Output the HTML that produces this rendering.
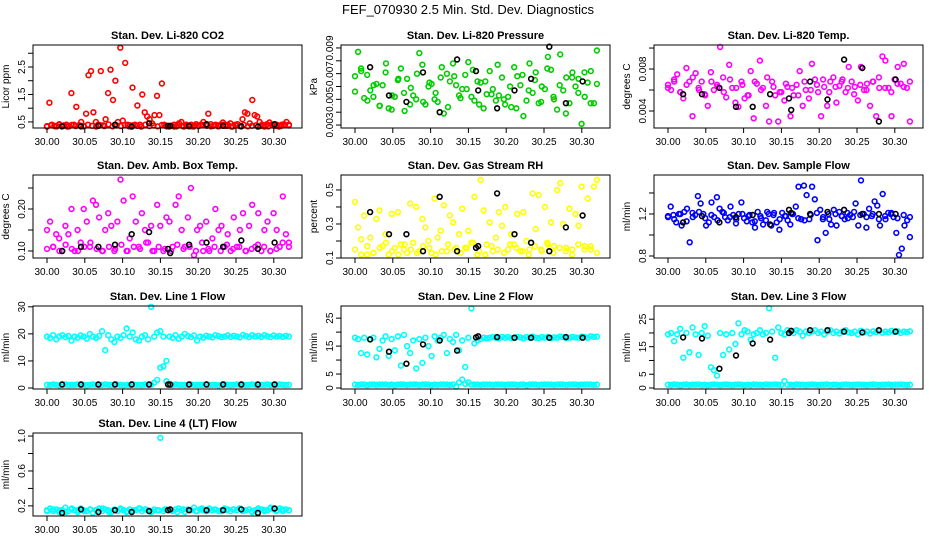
<!DOCTYPE html>
<html><head><meta charset="utf-8"><style>
html,body{margin:0;padding:0;background:#fff;}
svg{display:block;font-family:"Liberation Sans",sans-serif;}
</style></head><body>
<svg id="chart" width="936" height="540" viewBox="0 0 936 540" xmlns="http://www.w3.org/2000/svg">
<rect width="936" height="540" fill="#fff"/>
<text x="468" y="14" text-anchor="middle" font-size="13">FEF_070930  2.5 Min. Std. Dev. Diagnostics</text>
</svg>
<script>
const xTicks=[30.00,30.05,30.10,30.15,30.20,30.25,30.30];
const xTickLabels=['30.00','30.05','30.10','30.15','30.20','30.25','30.30'];
const blackX=[30.020,30.045,30.068,30.090,30.112,30.135,30.160,30.163,30.188,30.211,30.233,30.257,30.279,30.301];

const co2Vals=[0.33,1.2,0.4,0.36,0.34,0.42,0.35,0.38,0.4,0.34,
1.55,0.4,1.05,0.38,0.5,0.35,0.8,2.2,2.35,0.85,
0.5,0.4,2.35,0.38,0.6,1.55,2.4,1.3,2.0,0.5,
3.2,0.55,2.65,0.4,0.38,1.75,0.4,1.1,0.4,1.5,
0.85,0.7,0.6,0.45,0.75,1.45,0.75,1.9,0.4,0.34,
0.33,0.36,0.4,0.34,0.45,0.5,0.33,0.36,0.34,0.4,
0.33,0.42,0.36,0.4,0.5,0.4,0.8,0.42,0.36,0.4,
0.34,0.4,0.48,0.36,0.4,0.45,0.33,0.4,0.42,0.36,
0.6,0.85,0.8,0.45,1.3,0.75,0.7,0.5,0.4,0.33,
0.42,0.48,0.4,0.36,0.4,0.33,0.4,0.42,0.5,0.4];
const co2Base=[0.35,0.38,0.34,0.4,0.36,0.33,0.39,0.35,0.37,0.34,0.4,0.36,0.33,0.38,0.35,0.41,0.34,0.37,0.35,0.39,
0.34,0.38,0.36,0.33,0.4,0.35,0.37,0.34,0.39,0.36,0.35,0.33,0.38,0.36,0.4,0.34,0.37,0.35,0.39,0.36,
0.34,0.38,0.35,0.4,0.36,0.33,0.37,0.35,0.39,0.34,0.36,0.38,0.35,0.37,0.34,0.4,0.36,0.35,0.38,0.37];
const co2Black=[0.34,0.34,0.36,0.4,0.33,0.45,0.36,0.36,0.36,0.42,0.36,0.34,0.33,0.42];

const presVals=[0.0068,0.0087,0.0074,0.0051,0.0069,0.0057,0.0052,0.0062,0.0045,0.0061,
0.0071,0.0043,0.0042,0.0052,0.0065,0.0074,0.0055,0.0066,0.0046,0.0053,
0.0050,0.0086,0.0077,0.0046,0.0060,0.0062,0.0050,0.0048,0.0067,0.0039,
0.0070,0.0064,0.0078,0.0061,0.0053,0.0058,0.0069,0.0079,0.0052,0.0049,
0.0064,0.0063,0.0043,0.0054,0.0072,0.0058,0.0049,0.0053,0.0067,0.0046,
0.0052,0.0044,0.0075,0.0068,0.0061,0.0037,0.0049,0.0078,0.0055,0.0071,
0.0047,0.0060,0.0058,0.0083,0.0073,0.0050,0.0042,0.0085,0.0057,0.0067,
0.0047,0.0071,0.0060,0.0066,0.0031,0.0052,0.0063,0.0072,0.0047,0.0088];
const presExtra=[0.0056,0.0072,0.0049,0.0061,0.0045,0.0078,0.0053,0.0066,0.0041,0.0059,0.0070,0.0048,0.0063,0.0055,0.0075,0.0044,0.0068,0.0051,0.0058,0.0073,
0.0046,0.0064,0.0054,0.0077,0.0050,0.0060,0.0043,0.0069,0.0057,0.0065,0.0048,0.0074,0.0052,0.0061,0.0039,0.0067,0.0055,0.0071,0.0047,0.0062];
const presBlack=[0.0075,0.0053,0.0048,0.0071,0.0040,0.0081,0.0072,0.0057,0.0043,0.0057,0.0066,0.0091,0.0047,0.0064];

const ltVals=[0.0065,0.006,0.007,0.0075,0.0058,0.0052,0.0081,0.0068,0.0035,0.0076,
0.0062,0.0068,0.0056,0.0045,0.0077,0.006,0.0065,0.0101,0.0072,0.0053,
0.0084,0.0062,0.0048,0.0044,0.0068,0.0052,0.0055,0.0078,0.0033,0.0066,
0.0088,0.0062,0.0045,0.003,0.0068,0.0055,0.003,0.0058,0.005,0.0063,
0.0035,0.0055,0.0065,0.0078,0.0045,0.006,0.0052,0.0085,0.007,0.0058,
0.0035,0.0063,0.0045,0.0068,0.0072,0.0048,0.0064,0.007,0.0058,0.0082,
0.0068,0.0063,0.005,0.0082,0.006,0.0066,0.0045,0.0068,0.0035,0.0062,
0.0092,0.0088,0.0062,0.0035,0.007,0.0082,0.0066,0.0085,0.0062,0.003];
const ltExtra=[0.0062,0.0068,0.0058,0.0065,0.0072,0.006,0.0055,0.0068,0.0063,0.0058,0.007,0.0062,0.0065,0.0055,0.0068,0.006,0.0072,0.0063,0.0058,0.0066,
0.0062,0.0055,0.0068,0.006,0.0065,0.007,0.0058,0.0063,0.0068,0.0062,0.0056,0.0065,0.006,0.0068,0.0072,0.0062,0.0058,0.0066,0.0063,0.0068];
const ltBlack=[0.0056,0.0056,0.0062,0.0044,0.0044,0.0056,0.0052,0.0041,0.0068,0.0051,0.0089,0.0081,0.003,0.007];

const ambVals=[0.15,0.17,0.11,0.14,0.13,0.10,0.16,0.14,0.20,0.10,
0.15,0.12,0.20,0.17,0.11,0.22,0.21,0.18,0.10,0.15,
0.19,0.16,0.10,0.17,0.27,0.22,0.10,0.13,0.23,0.17,
0.11,0.19,0.15,0.12,0.16,0.10,0.21,0.16,0.10,0.18,
0.17,0.11,0.21,0.23,0.15,0.11,0.18,0.25,0.09,0.15,
0.16,0.10,0.17,0.10,0.13,0.20,0.15,0.16,0.11,0.14,
0.10,0.18,0.11,0.15,0.19,0.10,0.16,0.21,0.11,0.19,
0.10,0.15,0.17,0.10,0.19,0.15,0.11,0.23,0.14,0.12];
const ambBase=[0.105,0.11,0.10,0.115,0.105,0.10,0.11,0.12,0.105,0.10,0.11,0.105,0.115,0.10,0.11,0.105,0.12,0.10,0.11,0.105,
0.10,0.115,0.105,0.11,0.10,0.12,0.105,0.11,0.10,0.115,0.105,0.11,0.10,0.105,0.115,0.11,0.10,0.105,0.12,0.11];
const ambBlack=[0.10,0.11,0.11,0.115,0.14,0.145,0.105,0.095,0.115,0.12,0.11,0.125,0.105,0.12];

const rhVals=[0.43,0.28,0.21,0.35,0.12,0.22,0.13,0.33,0.38,0.17,
0.24,0.12,0.36,0.16,0.37,0.18,0.15,0.13,0.42,0.19,
0.40,0.14,0.33,0.28,0.20,0.13,0.45,0.22,0.26,0.41,
0.14,0.35,0.31,0.16,0.24,0.39,0.16,0.26,0.19,0.46,
0.12,0.56,0.38,0.18,0.31,0.14,0.22,0.37,0.29,0.40,
0.15,0.24,0.18,0.36,0.14,0.37,0.20,0.15,0.48,0.27,
0.47,0.14,0.40,0.18,0.31,0.17,0.50,0.54,0.30,0.16,
0.39,0.15,0.36,0.29,0.52,0.17,0.45,0.15,0.52,0.56];
const rhBase=[0.15,0.12,0.17,0.13,0.16,0.19,0.14,0.12,0.18,0.15,0.13,0.17,0.16,0.12,0.14,0.18,0.15,0.13,0.16,0.19,
0.14,0.12,0.17,0.15,0.13,0.18,0.16,0.14,0.12,0.17,0.15,0.19,0.13,0.16,0.14,0.12,0.18,0.15,0.17,0.13];
const rhBlack=[0.37,0.24,0.24,0.14,0.46,0.14,0.16,0.17,0.48,0.24,0.19,0.14,0.28,0.35];

const flowVals=[1.17,1.27,1.19,1.12,1.20,1.09,1.22,1.25,0.93,1.21,
1.19,1.37,1.30,1.20,1.09,1.12,1.31,1.17,1.36,1.25,
1.22,1.17,1.14,1.27,1.19,1.11,1.20,1.31,1.16,1.13,
1.19,1.12,1.07,1.22,1.18,1.10,1.14,1.20,1.09,1.21,
1.12,1.05,1.21,1.18,1.14,1.10,1.20,1.27,1.46,1.15,
1.47,1.38,1.15,1.46,1.34,0.95,1.24,1.15,1.02,1.20,
1.10,1.24,1.09,1.22,1.18,1.15,1.21,1.19,1.17,1.30,
1.09,1.52,1.20,1.07,1.25,1.18,1.32,1.28,1.09,1.39,
1.15,1.21,1.20,1.17,1.02,0.81,0.87,1.09,1.14,0.98];
const flowExtra=[1.18,1.15,1.2,1.13,1.17,1.22,1.16,1.19,1.14,1.21,1.17,1.15,1.2,1.18,1.13,1.16,1.22,1.19,1.15,1.18,
1.2,1.16,1.14,1.19,1.21,1.17,1.15,1.2,1.18,1.16,1.22,1.19,1.17,1.2,1.15,1.18,1.21,1.16,1.19,1.17];
const flowBlack=[1.12,1.18,1.12,1.17,1.19,1.10,1.24,1.21,1.20,1.22,1.24,1.20,1.20,1.20];

const l1Low=[1.2,1.1,1.3,1.2,1.0,1.2,1.3,1.1,1.2,1.2,1.3,1.1,1.2,1.0,1.2,1.3,1.2,1.1,1.2,1.3,
1.2,1.1,1.2,1.3,1.2,1.0,1.2,1.1,1.3,1.2,1.2,1.1,1.3,1.2,1.2,2.0,3.0,7.5,8.0,2.5,
1.2,1.1,1.3,1.2,1.2,1.1,1.2,1.3,1.2,1.1,1.2,1.2,1.3,1.1,1.2,1.2,1.0,1.2,1.3,1.2,
1.1,1.2,1.3,1.2,1.2,1.1,1.2,1.3,1.2,1.1,1.2,1.2,1.3,1.1,1.2,1.2,1.3,1.2,1.1,1.2];
const l1High=[19,18.5,19.5,18,19,19.5,18.8,19.2,17.5,19,18.6,19.4,19,18.2,20,19,18.5,19.2,21,14,
19.5,18,17,19,18.5,19.5,22,19,20.5,18,17.5,19,19.5,18,30,19,20.5,21,19,10,
19,18.5,19.5,18.2,19,20,19.2,18.8,19.4,17.5,19,18.6,19.3,19,18.7,19.5,19.2,18.8,19,19.4,
18.9,19.3,19,18.7,19.6,19.2,18.8,19.5,19,19.3,18.9,19.5,19.1,18.8,19.4,19,19.2,18.9,19.3,19];
const l1Black=[1.3,1.3,1.3,1.3,1.3,1.3,1.3,1.3,1.3,1.3,1.3,1.3,1.3,1.3];

const l2Low=[1.2,1.1,1.3,1.2,1.0,1.2,1.3,1.1,1.2,1.2,1.3,1.1,1.2,1.0,1.2,1.3,1.2,1.1,1.2,1.3,
1.2,1.1,1.2,1.3,1.2,1.0,1.2,1.1,1.3,1.2,1.2,1.1,1.3,0.5,2.0,3.0,1.5,2.0,1.2,1.2,
1.2,1.1,1.3,1.2,1.2,1.1,1.2,1.3,1.2,1.1,1.2,1.2,1.3,1.1,1.2,1.2,1.0,1.2,1.3,1.2,
1.1,1.2,1.3,1.2,1.2,1.1,1.2,1.3,1.2,1.1,1.2,1.2,1.3,1.1,1.2,1.2,1.3,1.2,1.1,1.2];
const l2High=[18,17.5,12.5,18,12,17.5,18,11,14,17,18.5,11.5,17.5,13.5,18.5,8,19,15,12.5,17,
7,17.5,9,18,15,11.5,18.5,17,18,19,12.5,17.5,16.5,19,13.5,17,7.5,18,28.5,16,
17,17.5,18,17.8,18,18.2,18,17.8,18.3,18,18.2,17.9,18,18.3,18.1,17.8,18.2,18,18.4,18,
17.9,18.2,18,18.3,17.8,18.1,18,18.4,18.2,17.9,18,18.3,18.1,18,18.4,18.2,18,18.5,18.3,18.4];
const l2Black=[17.4,13.0,8.7,15.6,17.0,13.4,18.1,18.5,18.2,18.0,18.0,18.0,18.2,18.0];

const l3Low=[1.2,1.1,1.3,1.2,1.0,1.2,1.3,1.1,1.2,1.2,1.3,1.1,1.2,1.0,1.2,1.3,1.2,1.1,1.2,1.3,
1.2,1.1,1.2,1.3,1.2,1.0,1.2,1.1,1.3,1.2,1.2,1.1,1.3,1.2,1.2,1.3,1.2,1.1,2.5,1.2,
1.2,1.1,1.3,1.2,1.2,1.1,1.2,1.3,1.2,1.1,1.2,1.2,1.3,1.1,1.2,1.2,1.0,1.2,1.3,1.2,
1.1,1.2,1.3,1.2,1.2,1.1,1.2,1.3,1.2,1.1,1.2,1.2,1.3,1.1,1.2,1.2,1.3,1.2,1.1,1.2];
const l3High=[19.5,20,17,19.5,21.5,11,20,13,22,19.5,12,20,22.5,19,7.5,6.5,4.5,20,12,19.5,
14,20,16,23.5,19.5,21,20.5,17.5,19.5,20,21,19.5,20,29,20.5,11,22,20,19.5,21,
20.5,20,21,20.5,19,20.5,20,20.5,21,20,20.5,19.5,20.5,21,20,20.5,19.8,20.5,21,20.2,
20,20.5,19.5,20.8,20.2,20.5,19.8,20.6,20.3,20.7,20.1,20.5,20.2,20.8,20.4,20.6,20,20.5,20.3,20.6];
const l3Black=[18.4,18.0,7.0,11.8,16.2,17.6,20.0,20.8,21.0,21.0,20.5,20.2,21.0,20.5];

const l4Vals=[0.15,0.17,0.14,0.16,0.13,0.15,0.18,0.14,0.16,0.15,0.13,0.17,0.15,0.14,0.16,0.12,0.15,0.17,0.14,0.16,
0.15,0.13,0.16,0.14,0.17,0.15,0.13,0.16,0.14,0.15,0.17,0.14,0.16,0.15,0.13,0.16,0.15,0.98,0.14,0.16,
0.15,0.14,0.16,0.17,0.15,0.13,0.16,0.15,0.18,0.14,0.16,0.15,0.14,0.17,0.15,0.16,0.14,0.15,0.17,0.16,
0.14,0.16,0.15,0.17,0.14,0.15,0.16,0.13,0.15,0.17,0.16,0.14,0.15,0.18,0.16,0.15,0.17,0.14,0.16,0.15];
const l4Extra=[0.14,0.16,0.15,0.13,0.17,0.15,0.14,0.16,0.15,0.17,0.13,0.15,0.16,0.14,0.15,0.17,0.16,0.14,0.15,0.16,
0.15,0.13,0.16,0.15,0.14,0.17,0.15,0.16,0.14,0.15,0.16,0.17,0.15,0.14,0.16,0.15,0.17,0.14,0.16,0.15];
const l4Black=[0.12,0.16,0.13,0.15,0.13,0.14,0.15,0.16,0.15,0.15,0.15,0.16,0.12,0.17];

const co2Ticks=[0.5,1,1.5,2,2.5,3]; const co2TickLabels=['0.5','','1.5','','2.5',''];
const presTicks=[0.003,0.004,0.005,0.006,0.007,0.008,0.009]; const presTickLabels=['0.003','','0.005','','0.007','','0.009'];
const ltTicks=[0.004,0.006,0.008,0.010]; const ltTickLabels=['0.004','','0.008',''];
const ambTicks=[0.10,0.15,0.20,0.25]; const ambTickLabels=['0.10','','0.20',''];
const rhTicks=[0.1,0.2,0.3,0.4,0.5]; const rhTickLabels=['0.1','','0.3','','0.5'];
const flowTicks=[0.8,1.0,1.2,1.4]; const flowTickLabels=['0.8','','1.2',''];
const l1Ticks=[0,10,20,30]; const l1TickLabels=['0','10','20','30'];
const l2Ticks=[0,5,10,15,20,25]; const l2TickLabels=['0','5','','15','','25'];
const l4Ticks=[0.2,0.4,0.6,0.8,1.0]; const l4TickLabels=['0.2','','0.6','','1.0'];

const panels=[
 {key:'co2',col:0,row:0,title:'Stan. Dev. Li-820 CO2',ylab:'Licor ppm',ymin:0.28,ymax:3.3,ticks:co2Ticks,tl:co2TickLabels,color:'#ff0000',series:[co2Base,co2Vals],black:co2Black},
 {key:'pressure',col:1,row:0,title:'Stan. Dev. Li-820 Pressure',ylab:'kPa',ymin:0.00277,ymax:0.00923,ticks:presTicks,tl:presTickLabels,color:'#00cd00',series:[presVals,presExtra],black:presBlack},
 {key:'li-temp',col:2,row:0,title:'Stan. Dev. Li-820 Temp.',ylab:'degrees C',ymin:0.00238,ymax:0.01029,ticks:ltTicks,tl:ltTickLabels,color:'#ff00ff',series:[ltVals,ltExtra],black:ltBlack},
 {key:'amb-temp',col:0,row:1,title:'Stan. Dev. Amb. Box Temp.',ylab:'degrees C',ymin:0.0833,ymax:0.281,ticks:ambTicks,tl:ambTickLabels,color:'#ff00ff',series:[ambBase,ambVals],black:ambBlack},
 {key:'rh',col:1,row:1,title:'Stan. Dev. Gas Stream RH',ylab:'percent',ymin:0.1,ymax:0.588,ticks:rhTicks,tl:rhTickLabels,color:'#ffff00',series:[rhBase,rhVals],black:rhBlack},
 {key:'sample-flow',col:2,row:1,title:'Stan. Dev. Sample Flow',ylab:'ml/min',ymin:0.781,ymax:1.571,ticks:flowTicks,tl:flowTickLabels,color:'#0000ff',series:[flowExtra,flowVals],black:flowBlack},
 {key:'line1',col:0,row:2,title:'Stan. Dev. Line 1 Flow',ylab:'ml/min',ymin:-0.37,ymax:30.3,ticks:l1Ticks,tl:l1TickLabels,color:'#00ffff',series:[l1Low,l1High],black:l1Black},
 {key:'line2',col:1,row:2,title:'Stan. Dev. Line 2 Flow',ylab:'ml/min',ymin:-0.36,ymax:29.35,ticks:l2Ticks,tl:l2TickLabels,color:'#00ffff',series:[l2Low,l2High],black:l2Black},
 {key:'line3',col:2,row:2,title:'Stan. Dev. Line 3 Flow',ylab:'ml/min',ymin:-0.37,ymax:29.8,ticks:l2Ticks,tl:l2TickLabels,color:'#00ffff',series:[l3Low,l3High],black:l3Black},
 {key:'line4',col:0,row:3,title:'Stan. Dev. Line 4 (LT) Flow',ylab:'ml/min',ymin:0.084,ymax:1.035,ticks:l4Ticks,tl:l4TickLabels,color:'#00ffff',series:[l4Extra,l4Vals],black:l4Black}
];
const colX0=[47,355,668], rowTop=[45,175,306,433], boxH=83, pxPerUnit=756;
const NS='http://www.w3.org/2000/svg';
const svg=document.getElementById('chart');
function mk(tag,attrs,parent){const e=document.createElementNS(NS,tag);for(const k in attrs)e.setAttribute(k,attrs[k]);parent.appendChild(e);return e;}
panels.forEach(p=>{
 const x0=colX0[p.col], left=x0-14, right=x0+255, top=rowTop[p.row], bot=top+boxH;
 const xs=v=>x0+(v-30)*pxPerUnit;
 const ys=v=>bot-(v-p.ymin)/(p.ymax-p.ymin)*boxH;
 const g=mk('g',{},svg);
 
 
 const t=mk('text',{x:(left+right)/2,y:top-6,'text-anchor':'middle','font-size':'11','font-weight':'bold'},g);
 
 
 t.textContent=p.title;
 const yt=mk('text',{x:0,y:0,'text-anchor':'middle','font-size':'10',transform:`translate(${left-24},${(top+bot)/2}) rotate(-90)`},g);
 
 
 yt.textContent=p.ylab;
 const pts=mk('g',{fill:'none','stroke-width':'1.6'},g);
 
 
 p.series.forEach(arr=>{arr.forEach((v,i)=>{
   const c=mk('circle',{cx:xs(30+i*0.32/(arr.length-1)).toFixed(1),cy:ys(v).toFixed(1),r:2.4,stroke:p.color},pts);
   
   
 });});
 p.black.forEach((v,i)=>{
   const c=mk('circle',{cx:xs(blackX[i]).toFixed(1),cy:ys(v).toFixed(1),r:2.4,stroke:'#000'},pts);
   
   
 });
 const box=mk('rect',{x:left,y:top,width:right-left,height:boxH,fill:'none',stroke:'#000','stroke-width':'1'},g);
 
 
 const xa=mk('g',{stroke:'#000'},g);
 
 
 mk('line',{x1:xs(xTicks[0]),x2:xs(xTicks[xTicks.length-1]),y1:bot,y2:bot},xa);
 xTicks.forEach((v,i)=>{
   mk('line',{x1:xs(v),x2:xs(v),y1:bot,y2:bot+5},xa);
   const l=mk('text',{x:xs(v),y:bot+17,'text-anchor':'middle','font-size':'10',stroke:'none',fill:'#000'},xa);
   
   
   l.textContent=xTickLabels[i];
 });
 const ya=mk('g',{stroke:'#000'},g);
 
 
 mk('line',{x1:left,x2:left,y1:ys(p.ticks[0]),y2:ys(p.ticks[p.ticks.length-1])},ya);
 p.ticks.forEach((v,i)=>{
   const y=ys(v);
   mk('line',{x1:left-5,x2:left,y1:y,y2:y},ya);
   if(p.tl[i]){
     const l=mk('text',{x:0,y:0,'text-anchor':'middle','font-size':'10',stroke:'none',fill:'#000',transform:`translate(${left-8},${y}) rotate(-90)`},ya);
     
     
     l.textContent=p.tl[i];
   }
 });
});
</script>
</body></html>
